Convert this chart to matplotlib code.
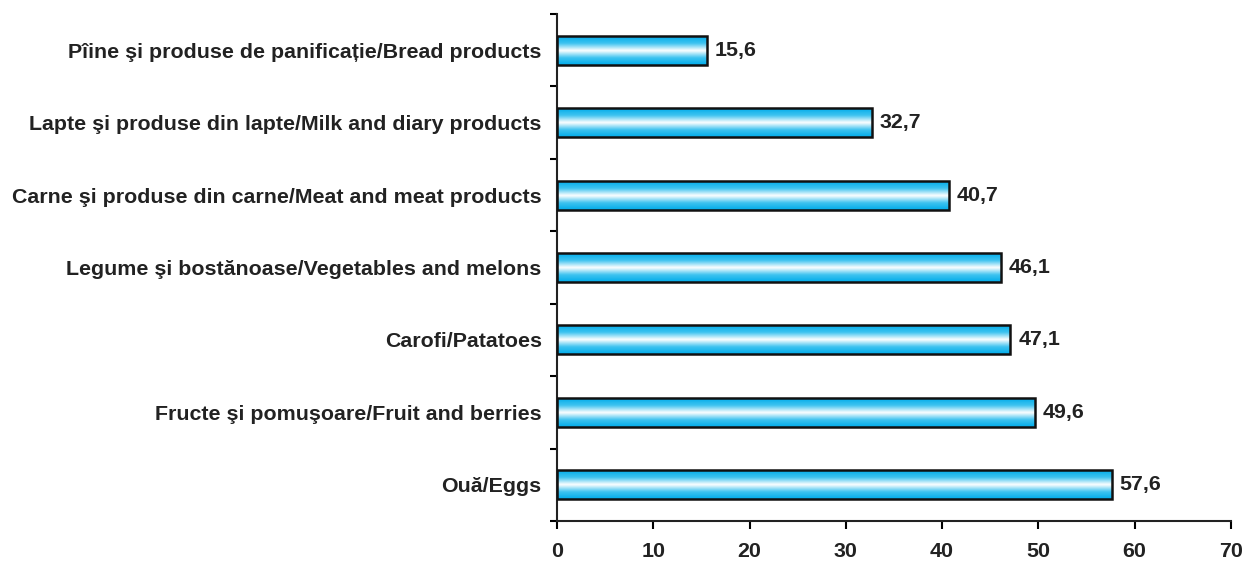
import numpy as np
import matplotlib
matplotlib.use("Agg")
import matplotlib.pyplot as plt
from matplotlib.colors import LinearSegmentedColormap

plt.rcParams['font.family'] = ['Liberation Sans', 'DejaVu Sans']

categorii = [
    "Ouă/Eggs",
    "Fructe şi pomuşoare/Fruit and berries",
    "Carofi/Patatoes",
    "Legume şi bostănoase/Vegetables and melons",
    "Carne şi produse din carne/Meat and meat products",
    "Lapte şi produse din lapte/Milk and diary products",
    "Pîine şi produse de panificație/Bread products",
]
valori = [57.6, 49.6, 47.1, 46.1, 40.7, 32.7, 15.6]
x_ticks = [0, 10, 20, 30, 40, 50, 60, 70]

fs = 15.4
culoare_text = '#222222'

fig = plt.figure(figsize=(12.44, 5.63), dpi=100)
ax = fig.add_axes([0.4477, 0.0746, 0.5418, 0.9004])

y = np.arange(len(categorii))
h = 0.4

# gradient cyan - alb - cyan
cmap = LinearSegmentedColormap.from_list(
    "bara", [(0.0, "#00ACEA"), (0.25, "#3EC3F0"), (0.5, "#FFFFFF"),
             (0.75, "#3EC3F0"), (1.0, "#00ACEA")])
grad = np.linspace(0, 1, 256).reshape(-1, 1)

bars = ax.barh(y, valori, height=h, facecolor='none', edgecolor='#111111',
               linewidth=1.8, zorder=3)
for b in bars:
    x0, y0 = b.get_x(), b.get_y()
    ax.imshow(grad, extent=[x0, x0 + b.get_width(), y0, y0 + b.get_height()],
              aspect='auto', cmap=cmap, zorder=2, interpolation='bicubic')

for yi, v in zip(y, valori):
    ax.text(v + 0.8, yi, f"{v:.1f}".replace('.', ','), va='center', ha='left',
            fontsize=fs, fontweight='bold', color=culoare_text)

ax.set_xlim(0, 70)
ax.set_ylim(-0.5, len(categorii) - 0.5)
ax.set_xticks(x_ticks)
ax.set_xticklabels([str(t) for t in x_ticks], fontsize=fs, fontweight='bold', color=culoare_text)

ax.set_yticks(np.arange(-0.5, len(categorii), 1.0))
ax.set_yticklabels([])
ax.set_yticks(y, minor=True)
ax.set_yticklabels(categorii, minor=True, fontsize=fs, fontweight='bold', color=culoare_text)
ax.tick_params(axis='y', which='minor', length=0, pad=11)
ax.tick_params(axis='y', which='major', length=5, width=1.5, direction='out')
ax.tick_params(axis='x', length=6, width=1.5, direction='out', pad=9)

for s in ['top', 'right']:
    ax.spines[s].set_visible(False)
for s in ['left', 'bottom']:
    ax.spines[s].set_linewidth(1.5)
    ax.spines[s].set_color('#222222')

fig.savefig("out.png", dpi=100)
